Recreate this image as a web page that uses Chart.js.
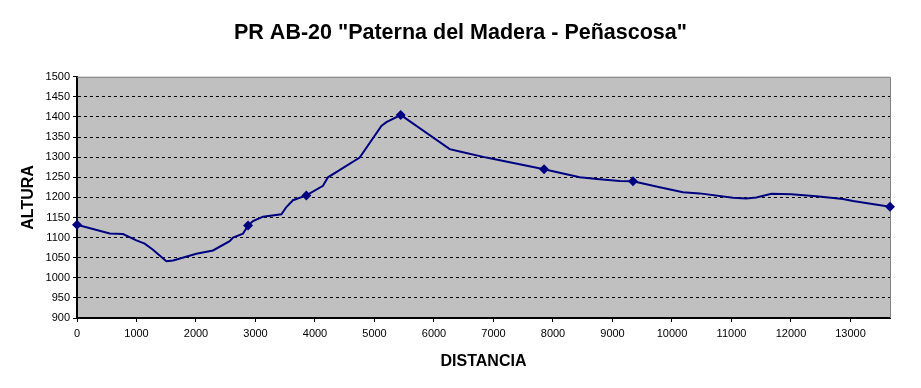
<!DOCTYPE html>
<html lang="es">
<head>
<meta charset="utf-8">
<title>PR AB-20 Paterna del Madera - Peñascosa</title>
<script src="https://cdn.jsdelivr.net/npm/chart.js@4.4.1/dist/chart.umd.min.js"></script>
<style>
    html, body { margin: 0; padding: 0; background: #fff; }
    #perfil { display: block; }
</style>
</head>
<body>
<canvas id="perfil" width="921" height="388"></canvas>
<script>
// perfil del sendero: distancia (m) y altura (m)
const distancia = [0, 550, 773, 998, 1138, 1277, 1502, 1615, 2006, 2286, 2566, 2622, 2790, 2875, 2958, 3126, 3435, 3519, 3630, 3855,
    4134, 4218, 4751, 5116, 5200, 5440, 6264, 6432, 6881, 7850, 8449, 8785, 9121, 9345, 9793, 10185, 10465, 11025, 11250, 11418,
    11670, 12006, 12426, 12874, 13042, 13664];
const altura = [1132, 1110, 1109, 1093, 1085, 1070, 1041, 1043, 1060, 1068, 1091, 1100, 1110, 1130, 1141, 1152, 1158, 1176, 1193, 1205,
    1229, 1250, 1299, 1378, 1387, 1405, 1320, 1314, 1299, 1270, 1250, 1245, 1241, 1240, 1225, 1213, 1210, 1199, 1197, 1200,
    1209, 1208, 1203, 1196, 1191, 1177];
// puntos con marca (rombo)
const hitos = [0, 13, 19, 25, 29, 33, 45];

// marcas de los ejes
const marcasX = [0, 1000, 2000, 3000, 4000, 5000, 6000, 7000, 8000, 9000, 10000, 11000, 12000, 13000];
const marcasY = [900, 950, 1000, 1050, 1100, 1150, 1200, 1250, 1300, 1350, 1400, 1450, 1500];

const titulo = 'PR AB-20 "Paterna del Madera - Peñascosa"';
const ejeX = 'DISTANCIA';
const ejeY = 'ALTURA';

Chart.defaults.font.family = '"Liberation Sans", Arial, sans-serif';
Chart.defaults.color = '#000';

// fondo gris del área de trazado y marco
const fondoGris = {
    id: 'fondoGris',
    beforeDraw(chart) {
        const { ctx, chartArea: a } = chart;
        ctx.save();
        ctx.fillStyle = '#c0c0c0';
        ctx.fillRect(a.left, a.top, a.right - a.left, a.bottom - a.top);
        ctx.restore();
    },
    beforeDatasetsDraw(chart) {
        const { ctx, chartArea: a } = chart;
        ctx.save();
        ctx.strokeStyle = '#808080';
        ctx.lineWidth = 1;
        ctx.beginPath();
        ctx.moveTo(a.left, a.top + 0.5);
        ctx.lineTo(a.right + 0.5, a.top + 0.5);
        ctx.lineTo(a.right + 0.5, a.bottom);
        ctx.stroke();
        ctx.restore();
    }
};

const puntos = distancia.map((d, i) => ({ x: d, y: altura[i] }));

new Chart(document.getElementById('perfil'), {
    type: 'line',
    data: {
        datasets: [{
            data: puntos,
            borderColor: '#000080',
            backgroundColor: '#000080',
            borderWidth: 2,
            tension: 0,
            pointStyle: 'rectRot',
            pointRadius: ctx => hitos.includes(ctx.dataIndex) ? 5 : 0,
            pointBorderWidth: 0,
            clip: false
        }]
    },
    plugins: [fondoGris],
    options: {
        responsive: false,
        devicePixelRatio: 1,
        animation: false,
        layout: { padding: 0 },
        plugins: {
            legend: { display: false },
            tooltip: { enabled: false },
            title: {
                display: true,
                text: titulo,
                color: '#000',
                font: { size: 21.5, weight: 'bold' },
                padding: { top: 20, bottom: 31 }
            }
        },
        scales: {
            x: {
                type: 'linear',
                min: 0,
                max: 13664,
                afterFit: s => { s.height = 70; },
                afterBuildTicks: s => { s.ticks = marcasX.map(v => ({ value: v })); },
                ticks: {
                    autoSkip: false,
                    maxRotation: 0,
                    padding: 5,
                    font: { size: 11 },
                    callback: v => String(v)
                },
                grid: {
                    drawOnChartArea: false,
                    tickLength: 4,
                    tickColor: '#000'
                },
                border: { color: '#000', width: 2 },
                title: { display: true, text: ejeX, font: { size: 16, weight: 'bold' }, padding: 17 }
            },
            y: {
                min: 900,
                max: 1500,
                afterFit: s => { s.width = 77; },
                afterBuildTicks: s => { s.ticks = marcasY.map(v => ({ value: v })); },
                ticks: { padding: 3, font: { size: 11 }, callback: v => String(v) },
                grid: {
                    color: ctx => (ctx.tick && (ctx.tick.value === 900 || ctx.tick.value === 1500)) ? 'rgba(0,0,0,0)' : '#000',
                    tickColor: '#000',
                    tickLength: 4,
                    lineWidth: 1
                },
                border: { color: '#000', width: 2, dash: [3, 3] },
                title: { display: true, text: ejeY, font: { size: 16, weight: 'bold' }, padding: 19 }
            },
            // eje vacío a la derecha: solo reserva el margen
            margen: {
                position: 'right',
                min: 0,
                max: 1,
                afterFit: s => { s.width = 31; },
                ticks: { display: false },
                grid: { display: false },
                border: { display: false }
            }
        }
    }
});
</script>
</body>
</html>
